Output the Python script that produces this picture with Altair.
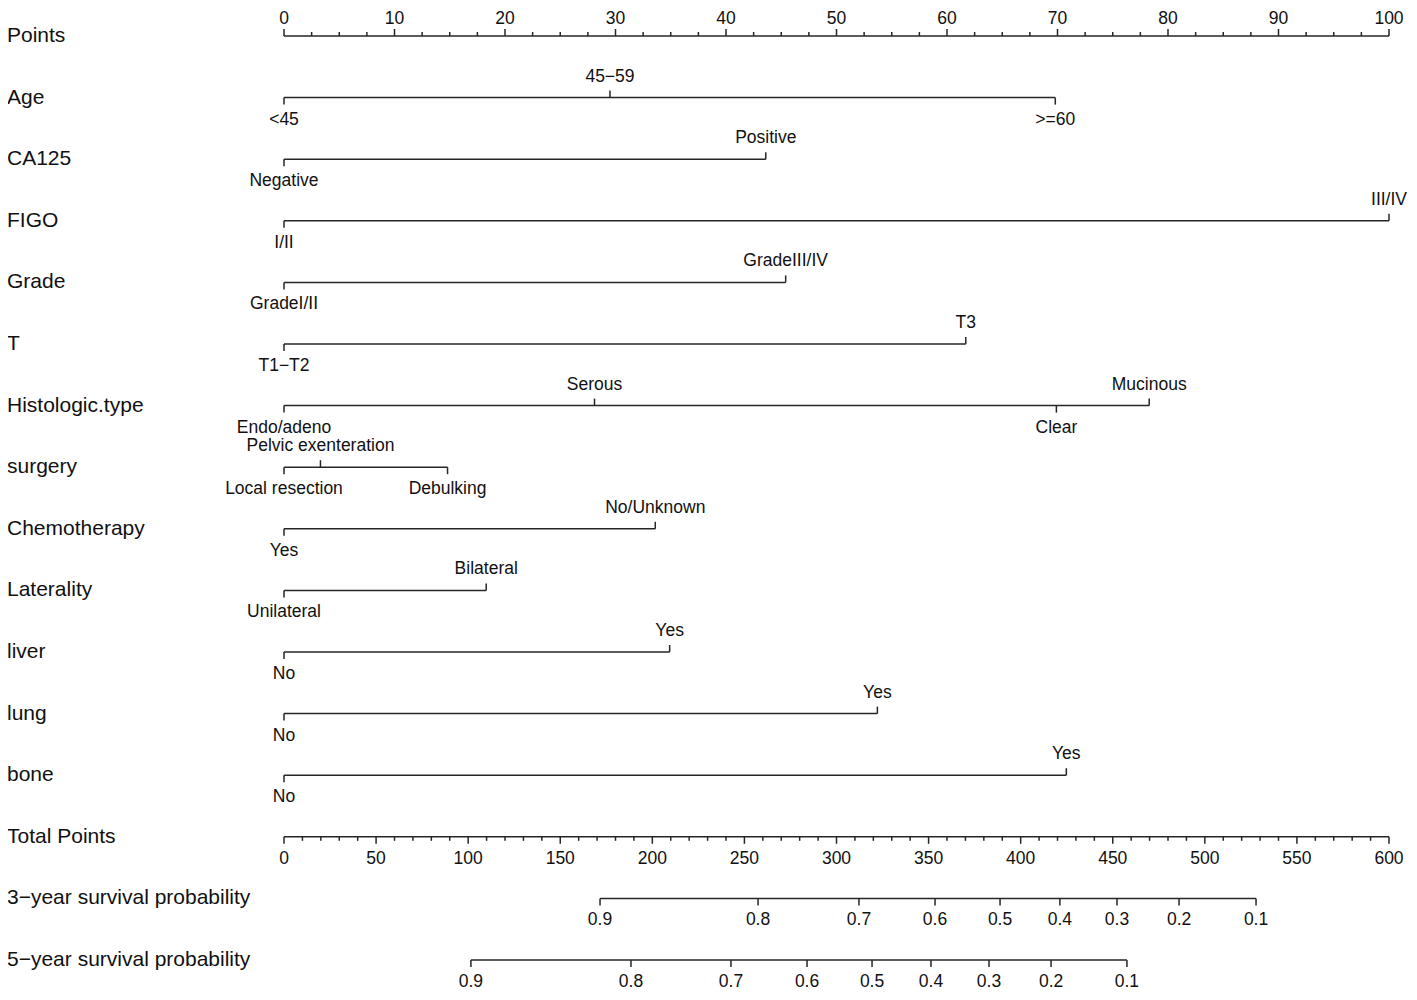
import altair as alt
import pandas as pd

# ---------------- data ----------------
var_names = ["Points", "Age", "CA125", "FIGO", "Grade", "T", "Histologic.type",
             "surgery", "Chemotherapy", "Laterality", "liver", "lung", "bone",
             "Total Points", "3\u2212year survival probability", "5\u2212year survival probability"]

level_labels = [
    ["<45", "45\u221259", ">=60"],
    ["Negative", "Positive"],
    ["I/II", "III/IV"],
    ["GradeI/II", "GradeIII/IV"],
    ["T1\u2212T2", "T3"],
    ["Endo/adeno", "Serous", "Clear", "Mucinous"],
    ["Local resection", "Pelvic exenteration", "Debulking"],
    ["Yes", "No/Unknown"],
    ["Unilateral", "Bilateral"],
    ["No", "Yes"],
    ["No", "Yes"],
    ["No", "Yes"],
]
level_points = [
    [0, 29.5, 69.8],
    [0, 43.6],
    [0, 100],
    [0, 45.4],
    [0, 61.7],
    [0, 28.1, 69.9, 78.3],
    [0, 3.3, 14.8],
    [0, 33.6],
    [0, 18.3],
    [0, 34.9],
    [0, 53.7],
    [0, 70.8],
]

points_major = list(range(0, 101, 10))
points_minor = [v / 2 for v in range(0, 201, 5) if (v / 2) % 10 != 0]
total_major = list(range(0, 601, 50))
total_minor = [v for v in range(0, 601, 10) if v % 50 != 0]

surv_labels = ["0.9", "0.8", "0.7", "0.6", "0.5", "0.4", "0.3", "0.2", "0.1"]
surv3_total = [171.6, 257.4, 312.2, 353.5, 388.8, 421.3, 452.3, 486.0, 527.8]
surv5_total = [101.5, 188.4, 242.7, 284.0, 319.3, 351.3, 382.8, 416.5, 457.7]

TOTAL_MAX = 600
POINTS_MAX = 100

# ---------------- build tables ----------------
names_df = pd.DataFrame({"name": var_names, "row": list(range(len(var_names)))})

lines, ticks, labels = [], [], []

# Points axis (row 0): ticks up, labels above
lines.append({"row": 0, "x": 0, "x2": POINTS_MAX})
for v in points_major:
    ticks.append({"row": 0, "x": v, "side": "up", "kind": "major"})
    labels.append({"row": 0, "x": v, "text": str(v), "side": "top"})
for v in points_minor:
    ticks.append({"row": 0, "x": v, "side": "up", "kind": "minor"})

# Variables
for i, (labs, pts) in enumerate(zip(level_labels, level_points)):
    row = i + 1
    lines.append({"row": row, "x": min(pts), "x2": max(pts)})
    order = sorted(range(len(pts)), key=lambda k: pts[k])
    for rank, k in enumerate(order):
        side = "down" if rank % 2 == 0 else "up"
        ticks.append({"row": row, "x": pts[k], "side": side, "kind": "major"})
        labels.append({"row": row, "x": pts[k], "text": labs[k], "side": side})

# Total points (row 13)
scale_tp = POINTS_MAX / TOTAL_MAX
lines.append({"row": 13, "x": 0, "x2": POINTS_MAX})
for v in total_major:
    ticks.append({"row": 13, "x": v * scale_tp, "side": "down", "kind": "major"})
    labels.append({"row": 13, "x": v * scale_tp, "text": str(v), "side": "down"})
for v in total_minor:
    ticks.append({"row": 13, "x": v * scale_tp, "side": "down", "kind": "minor"})

# Survival rows
for row, tps in [(14, surv3_total), (15, surv5_total)]:
    xs = [t * scale_tp for t in tps]
    lines.append({"row": row, "x": min(xs), "x2": max(xs)})
    for lab, xv in zip(surv_labels, xs):
        ticks.append({"row": row, "x": xv, "side": "down", "kind": "major"})
        labels.append({"row": row, "x": xv, "text": lab, "side": "down"})

lines_df = pd.DataFrame(lines)
ticks_df = pd.DataFrame(ticks)
labels_df = pd.DataFrame(labels)

# ---------------- chart ----------------
FONT = "Liberation Sans"
LINE_COLOR = "#262626"
TEXT_COLOR = "#111111"

xscale = alt.Scale(domain=[0, POINTS_MAX], nice=False, zero=False)
yscale = alt.Scale(domain=[0, len(var_names) - 1], reverse=True, nice=False, zero=False)

X = alt.X("x:Q", scale=xscale, axis=None)
Y = alt.Y("row:Q", scale=yscale, axis=None)

name_layer = alt.Chart(names_df).mark_text(
    align="left", baseline="middle", fontSize=21, font=FONT, color=TEXT_COLOR
).encode(x=alt.value(-277), y=Y, text="name:N")

line_layer = alt.Chart(lines_df).mark_rule(color=LINE_COLOR, strokeWidth=1.5).encode(
    x=X, x2="x2:Q", y=Y
)

def tick_layer(side, kind, length):
    off = -length if side == "up" else length
    return alt.Chart(ticks_df).transform_filter(
        (alt.datum.side == side) & (alt.datum.kind == kind)
    ).mark_rule(color=LINE_COLOR, strokeWidth=1.5, y2Offset=off).encode(
        x=X, y=Y, y2=alt.Y2("row:Q")
    )

def label_layer(side, dy):
    return alt.Chart(labels_df).transform_filter(alt.datum.side == side).mark_text(
        align="center", baseline="middle", fontSize=17.5, font=FONT, color=TEXT_COLOR, dy=dy
    ).encode(x=X, y=Y, text="text:N")

chart = alt.layer(
    name_layer,
    line_layer,
    tick_layer("up", "major", 7),
    tick_layer("up", "minor", 4),
    tick_layer("down", "major", 7),
    tick_layer("down", "minor", 4),
    label_layer("top", -17),
    label_layer("up", -21),
    label_layer("down", 22),
).properties(
    width=1105,
    height=924,
    autosize=alt.AutoSizeParams(type="none"),
    padding={"left": 276, "top": 28, "right": 20, "bottom": 32},
    background="white",
).configure_view(stroke=None)

chart.save("out.html", embed_options={"renderer": "svg", "actions": False})
